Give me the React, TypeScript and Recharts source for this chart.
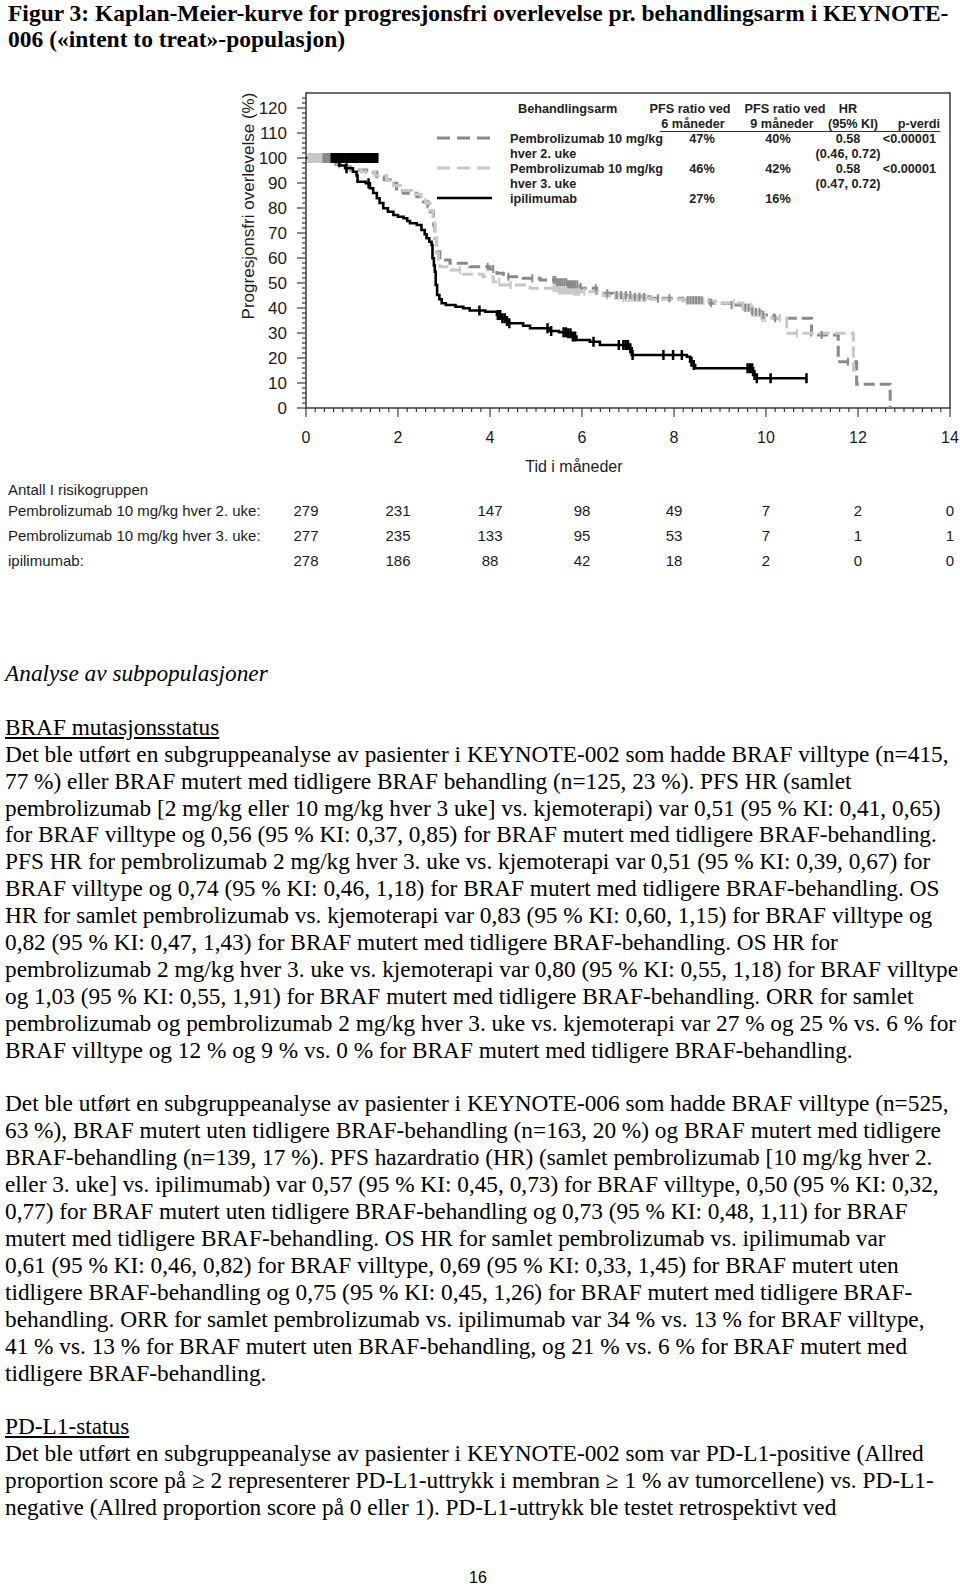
import React from 'react';
import { ComposedChart, Line, Scatter, XAxis, YAxis, ReferenceArea } from 'recharts';

// ---- chart data ----
const monthTicks = [0, 2, 4, 6, 8, 10, 12, 14];
const percentTicks = [0, 10, 20, 30, 40, 50, 60, 70, 80, 90, 100, 110, 120];

// Kaplan-Meier steps [months, % progression free]
const q2wCurve = [
  [0, 100], [0.55, 98.5], [0.65, 97.5], [0.74, 96.5], [0.96, 95.2], [1.32, 94.3], [1.54, 92.5],
  [1.7, 91.3], [1.83, 89.9], [1.97, 86.8], [2.12, 85.9], [2.41, 84.5], [2.55, 82.5], [2.65, 80.5],
  [2.7, 78.5], [2.77, 73.2], [2.8, 67.9], [2.84, 62.5], [2.91, 59.2], [3.13, 57.9], [3.56, 56.5],
  [4.0, 55.6], [4.15, 53.9], [4.29, 52.5], [4.72, 51.9], [5.09, 51.2], [5.45, 50.3], [5.7, 49.5],
  [5.96, 47.9], [6.32, 45.9], [6.68, 45.2], [7.1, 44.5], [7.48, 43.9], [8.19, 43.2], [8.78, 41.9],
  [9.22, 41.2], [9.5, 40], [9.7, 38.5], [9.9, 37.2], [10.16, 35.9], [10.99, 29.2], [11.57, 18.5],
  [11.97, 9.5], [12.7, 0],
];
const q3wCurve = [
  [0, 100], [0.55, 98.5], [0.7, 97], [0.9, 95.5], [1.2, 94.5], [1.5, 93], [1.75, 91], [1.9, 89],
  [2.05, 87], [2.3, 85.5], [2.5, 84], [2.6, 82], [2.7, 79], [2.76, 74], [2.8, 68], [2.84, 62],
  [2.88, 58.5], [2.91, 56.5], [3.13, 55.2], [3.42, 53.5], [3.85, 52.5], [4.07, 50.5], [4.22, 49.2],
  [4.87, 47.9], [5.5, 47], [5.8, 46.5], [6.46, 44.9], [6.9, 44], [7.5, 43.5], [8.2, 42.8], [8.9, 42],
  [9.5, 40.5], [9.7, 38], [9.9, 36], [10.45, 29.9], [11.9, 15.2], [11.95, 15.2],
];
const ipiCurve = [
  [0, 100], [0.6, 98.5], [0.72, 97], [0.85, 95.9], [1.02, 94.5], [1.1, 93], [1.12, 90.5], [1.3, 89.9],
  [1.39, 87.9], [1.46, 86], [1.54, 83.9], [1.6, 82], [1.68, 79.9], [1.78, 78.5], [1.9, 77.2], [2.0, 76.5],
  [2.12, 75.9], [2.2, 74.8], [2.26, 73.9], [2.41, 73.2], [2.51, 71.2], [2.58, 69.5], [2.62, 67.9],
  [2.68, 66.5], [2.73, 65.2], [2.75, 59.9], [2.78, 57], [2.8, 54.5], [2.82, 49.2], [2.85, 45.2],
  [2.9, 43.5], [2.95, 41.9], [3.04, 41.2], [3.25, 40.5], [3.42, 39.9], [3.56, 39], [3.9, 38.5],
  [4.15, 37.2], [4.25, 35.9], [4.33, 34.8], [4.4, 33.9], [4.72, 32.9], [4.87, 31.9], [5.3, 30.8],
  [5.5, 30.3], [5.67, 29.9], [5.78, 28.6], [5.88, 27.2], [6.17, 26.5], [6.39, 25.2], [7.04, 23.9],
  [7.08, 21.2], [8.28, 20.5], [8.35, 18.5], [8.4, 17.2], [8.46, 15.9], [9.72, 13.2], [9.8, 11.9],
  [10.88, 11.9],
];

// censored observations (months); marks sit on the curve
const q2wCensored = [
  3.95, 4.07, 4.4, 4.92, 5.38, 5.42, 5.46, 5.5, 5.54, 5.58, 5.62, 5.66, 5.7, 5.74, 5.78, 5.82, 5.86, 5.9,
  6.3, 6.55, 6.75, 6.85, 6.95, 7.05, 7.15, 7.25, 7.35, 7.65, 7.9, 8.3, 8.36, 8.42, 8.48, 8.54, 8.6,
  8.8, 9.25, 9.55, 9.62, 9.7, 9.78, 9.86, 9.94, 10.2, 11.21, 11.78,
];
const q3wCensored = [
  3.35, 4.2, 4.45, 5.38, 5.42, 5.46, 5.5, 5.54, 5.58, 5.62, 5.66, 5.7, 5.74, 5.78, 5.82, 5.86, 5.9, 5.94,
  6.05, 6.55, 6.72, 6.78, 6.84, 6.9, 6.96, 7.02, 7.08, 7.14, 7.2, 7.26, 7.32, 7.38, 7.65, 8.28, 8.34,
  8.4, 8.46, 8.52, 8.58, 8.64, 9.3, 9.5, 9.56, 9.62, 9.68, 9.74, 9.8, 9.86, 9.92, 9.98, 10.3, 10.67,
];
const ipiCensored = [
  0.88, 1.36, 3.77, 4.17, 4.22, 4.27, 4.32, 4.37, 4.42, 5.25, 5.33, 5.6, 5.65, 5.7, 5.75, 5.8, 5.85,
  6.25, 6.8, 6.9, 6.95, 7.0, 7.05, 7.1, 7.77, 7.98, 8.17, 8.38, 8.43, 9.6, 9.65, 9.7, 9.75, 9.8,
  10.1, 10.88,
];
// censor blocks drawn at the 100 % line at the start
const q3wStartBlock = [0.05, 0.08, 0.11, 0.14, 0.17, 0.2, 0.23, 0.26, 0.29, 0.32, 0.35];
const q2wStartBlock = [0.38, 0.41, 0.44, 0.47, 0.5, 0.53];
const ipiStartBlock = [
  0.56, 0.6, 0.64, 0.68, 0.72, 0.76, 0.8, 0.84, 0.88, 0.92, 0.96, 1.0, 1.04, 1.08, 1.12, 1.16,
  1.2, 1.24, 1.28, 1.32, 1.36, 1.4, 1.44, 1.48, 1.52, 1.55,
];

// number at risk
const riskLabels = ['Pembrolizumab 10 mg/kg hver 2. uke:', 'Pembrolizumab 10 mg/kg hver 3. uke:', 'ipilimumab:'];
const riskQ2W = [279, 231, 147, 98, 49, 7, 2, 0];
const riskQ3W = [277, 235, 133, 95, 53, 7, 1, 1];
const riskIpi = [278, 186, 88, 42, 18, 2, 0, 0];

// legend table
const armNames = [
  ['Pembrolizumab 10 mg/kg', 'hver 2. uke'],
  ['Pembrolizumab 10 mg/kg', 'hver 3. uke'],
  ['ipilimumab'],
];
const pfs6 = ['47%', '46%', '27%'];
const pfs9 = ['40%', '42%', '16%'];
const hrValues = ['0.58', '0.58', ''];
const hrCi = ['(0.46, 0.72)', '(0.47, 0.72)', ''];
const pValues = ['<0.00001', '<0.00001', ''];

// ---- page text ----
const titleLines = [
  'Figur 3: Kaplan-Meier-kurve for progresjonsfri overlevelse pr. behandlingsarm i KEYNOTE-',
  '006 («intent to treat»-populasjon)',
];
const braf002 = [
  'Det ble utført en subgruppeanalyse av pasienter i KEYNOTE-002 som hadde BRAF villtype (n=415,',
  '77 %) eller BRAF mutert med tidligere BRAF behandling (n=125, 23 %). PFS HR (samlet',
  'pembrolizumab [2 mg/kg eller 10 mg/kg hver 3 uke] vs. kjemoterapi) var 0,51 (95 % KI: 0,41, 0,65)',
  'for BRAF villtype og 0,56 (95 % KI: 0,37, 0,85) for BRAF mutert med tidligere BRAF-behandling.',
  'PFS HR for pembrolizumab 2 mg/kg hver 3. uke vs. kjemoterapi var 0,51 (95 % KI: 0,39, 0,67) for',
  'BRAF villtype og 0,74 (95 % KI: 0,46, 1,18) for BRAF mutert med tidligere BRAF-behandling. OS',
  'HR for samlet pembrolizumab vs. kjemoterapi var 0,83 (95 % KI: 0,60, 1,15) for BRAF villtype og',
  '0,82 (95 % KI: 0,47, 1,43) for BRAF mutert med tidligere BRAF-behandling. OS HR for',
  'pembrolizumab 2 mg/kg hver 3. uke vs. kjemoterapi var 0,80 (95 % KI: 0,55, 1,18) for BRAF villtype',
  'og 1,03 (95 % KI: 0,55, 1,91) for BRAF mutert med tidligere BRAF-behandling. ORR for samlet',
  'pembrolizumab og pembrolizumab 2 mg/kg hver 3. uke vs. kjemoterapi var 27 % og 25 % vs. 6 % for',
  'BRAF villtype og 12 % og 9 % vs. 0 % for BRAF mutert med tidligere BRAF-behandling.',
];
const braf006 = [
  'Det ble utført en subgruppeanalyse av pasienter i KEYNOTE-006 som hadde BRAF villtype (n=525,',
  '63 %), BRAF mutert uten tidligere BRAF-behandling (n=163, 20 %) og BRAF mutert med tidligere',
  'BRAF-behandling (n=139, 17 %). PFS hazardratio (HR) (samlet pembrolizumab [10 mg/kg hver 2.',
  'eller 3. uke] vs. ipilimumab) var 0,57 (95 % KI: 0,45, 0,73) for BRAF villtype, 0,50 (95 % KI: 0,32,',
  '0,77) for BRAF mutert uten tidligere BRAF-behandling og 0,73 (95 % KI: 0,48, 1,11) for BRAF',
  'mutert med tidligere BRAF-behandling. OS HR for samlet pembrolizumab vs. ipilimumab var',
  '0,61 (95 % KI: 0,46, 0,82) for BRAF villtype, 0,69 (95 % KI: 0,33, 1,45) for BRAF mutert uten',
  'tidligere BRAF-behandling og 0,75 (95 % KI: 0,45, 1,26) for BRAF mutert med tidligere BRAF-',
  'behandling. ORR for samlet pembrolizumab vs. ipilimumab var 34 % vs. 13 % for BRAF villtype,',
  '41 % vs. 13 % for BRAF mutert uten BRAF-behandling, og 21 % vs. 6 % for BRAF mutert med',
  'tidligere BRAF-behandling.',
];
const pdl1 = [
  'Det ble utført en subgruppeanalyse av pasienter i KEYNOTE-002 som var PD-L1-positive (Allred',
  'proportion score på ≥ 2 representerer PD-L1-uttrykk i membran ≥ 1 % av tumorcellene) vs. PD-L1-',
  'negative (Allred proportion score på 0 eller 1). PD-L1-uttrykk ble testet retrospektivt ved',
];

// ---- styles ----
const sans = "'Liberation Sans', Arial, sans-serif";
const serif = "'Liberation Serif', 'Times New Roman', serif";
const ink = '#1c1c1c';
const frameColor = '#3c3c3c';

const arms = [
  { name: 'q2w', color: '#8a8a8a', dash: '11 5', width: 3, risk: riskQ2W },
  { name: 'q3w', color: '#c8c8c8', dash: '11 5', width: 3, risk: riskQ3W },
  { name: 'ipi', color: '#000000', dash: undefined, width: 2.6, risk: riskIpi },
];

const toPoints = (rows: number[][]) => rows.map(([t, s]) => ({ t, s }));
const survAt = (rows: number[][], t: number) => {
  let s = rows[0][1];
  for (const [rt, rs] of rows) if (rt <= t) s = rs;
  return s;
};
const marksOn = (rows: number[][], times: number[]) => times.map((t) => ({ t, s: survAt(rows, t) }));
const marksAt = (times: number[], s: number) => times.map((t) => ({ t, s }));

const minorMonths = Array.from({ length: 71 }, (_, i) => Math.round(i * 2) / 10);
const minorPercents = Array.from({ length: 63 }, (_, i) => i * 2);

// risk-table rows sit below the time axis, offsets from the axis line
const riskRowOffsets = [102, 127, 152];

function MonthTick(props: any) {
  const { x, y, payload } = props;
  const idx = monthTicks.indexOf(payload.value);
  const major = idx >= 0;
  return (
    <g>
      <line x1={x} x2={x} y1={y} y2={y + (major ? 9 : 4)} stroke={frameColor} strokeWidth={1.2} />
      {major && (
        <g fontFamily={sans} fill={ink} textAnchor="middle" dominantBaseline="central">
          <text x={x} y={y + 29} fontSize={16}>{payload.value}</text>
          {arms.map((a, i) => (
            <text key={a.name} x={x} y={y + riskRowOffsets[i]} fontSize={15}>
              {a.risk[idx]}
            </text>
          ))}
        </g>
      )}
    </g>
  );
}

function PercentTick(props: any) {
  const { x, y, payload } = props;
  const major = percentTicks.includes(payload.value);
  return (
    <g>
      <line x1={x - (major ? 9 : 4)} x2={x} y1={y} y2={y} stroke={frameColor} strokeWidth={1.2} />
      {major && (
        <text x={x - 19} y={y} textAnchor="end" dominantBaseline="central" fontFamily={sans} fontSize={17} fill={ink}>
          {payload.value}
        </text>
      )}
    </g>
  );
}

function TimeCaption(props: any) {
  const { viewBox } = props;
  return (
    <g fontFamily={sans} fill={ink} dominantBaseline="central">
      <text x={viewBox.x + viewBox.width * 0.416} y={viewBox.y + 58} textAnchor="middle" fontSize={16}>
        Tid i måneder
      </text>
      <text x={8} y={viewBox.y + 81} fontSize={15}>
        Antall I risikogruppen
      </text>
      {riskLabels.map((l, i) => (
        <text key={l} x={8} y={viewBox.y + riskRowOffsets[i]} fontSize={15}>
          {l}
        </text>
      ))}
    </g>
  );
}

function PercentCaption(props: any) {
  const { viewBox } = props;
  const cx = 248;
  const cy = viewBox.y + 113;
  return (
    <text x={cx} y={cy} transform={`rotate(-90 ${cx} ${cy})`} textAnchor="middle" dominantBaseline="central" fontFamily={sans} fontSize={17} fill={ink}>
      Progresjonsfri overlevelse (%)
    </text>
  );
}

function CensorMark(props: any) {
  const { cx, cy, color, half, width } = props;
  if (cx == null || cy == null) return null;
  return <line x1={cx} x2={cx} y1={cy - half} y2={cy + half} stroke={color} strokeWidth={width} />;
}

function KmLegend() {
  const col6 = 702;
  const col9 = 778;
  const colHr = 848;
  const colP = 936;
  const rowY = [139, 169, 199];
  const f = { fontFamily: sans, fontSize: 12.7, fontWeight: 700, fill: '#222' } as const;
  return (
    <svg width={960} height={230} style={{ position: 'absolute', left: 0, top: 0, pointerEvents: 'none' }}>
      <text {...f} x={518} y={109} dominantBaseline="central">Behandlingsarm</text>
      <text {...f} x={690} y={109} textAnchor="middle" dominantBaseline="central">PFS ratio ved</text>
      <text {...f} x={693} y={124} textAnchor="middle" dominantBaseline="central">6 måneder</text>
      <text {...f} x={785} y={109} textAnchor="middle" dominantBaseline="central">PFS ratio ved</text>
      <text {...f} x={782} y={124} textAnchor="middle" dominantBaseline="central">9 måneder</text>
      <text {...f} x={848} y={109} textAnchor="middle" dominantBaseline="central">HR</text>
      <text {...f} x={853} y={124} textAnchor="middle" dominantBaseline="central">(95% KI)</text>
      <text {...f} x={940} y={124} textAnchor="end" dominantBaseline="central">p-verdi</text>
      <line x1={660} x2={940} y1={131.5} y2={131.5} stroke="#333" strokeWidth={1.2} />
      {arms.map((a, i) => (
        <g key={a.name}>
          <line x1={437} x2={492} y1={rowY[i] - 1} y2={rowY[i] - 1} stroke={a.color} strokeWidth={a.width} strokeDasharray={a.dash ? '13 7' : undefined} />
          <text {...f} x={510} y={rowY[i]} dominantBaseline="central">{armNames[i][0]}</text>
          {armNames[i][1] && <text {...f} x={510} y={rowY[i] + 15} dominantBaseline="central">{armNames[i][1]}</text>}
          <text {...f} x={col6} y={rowY[i]} textAnchor="middle" dominantBaseline="central">{pfs6[i]}</text>
          <text {...f} x={col9} y={rowY[i]} textAnchor="middle" dominantBaseline="central">{pfs9[i]}</text>
          <text {...f} x={colHr} y={rowY[i]} textAnchor="middle" dominantBaseline="central">{hrValues[i]}</text>
          <text {...f} x={colHr} y={rowY[i] + 15} textAnchor="middle" dominantBaseline="central">{hrCi[i]}</text>
          <text {...f} x={colP} y={rowY[i]} textAnchor="end" dominantBaseline="central">{pValues[i]}</text>
        </g>
      ))}
    </svg>
  );
}

function KmChart() {
  const curves = [q2wCurve, q3wCurve, ipiCurve];
  return (
    <ComposedChart width={960} height={600} margin={{ top: 93, right: 10, bottom: 27, left: 0 }}>
      <XAxis
        type="number"
        dataKey="t"
        domain={[0, 14]}
        ticks={minorMonths}
        interval={0}
        axisLine={false}
        tickLine={false}
        tickSize={0}
        tickMargin={0}
        height={165}
        tick={<MonthTick />}
        label={<TimeCaption />}
      />
      <YAxis
        type="number"
        domain={[0, 126]}
        ticks={minorPercents}
        interval={0}
        width={306}
        axisLine={false}
        tickLine={false}
        tickSize={0}
        tickMargin={0}
        tick={<PercentTick />}
        label={<PercentCaption />}
      />
      <ReferenceArea x1={0} x2={14} y1={0} y2={126} fill="none" stroke={frameColor} strokeWidth={1.5} ifOverflow="visible" />
      {arms.map((a, i) => (
        <Line
          key={a.name}
          data={toPoints(curves[i])}
          dataKey="s"
          type="stepAfter"
          stroke={a.color}
          strokeWidth={a.width}
          strokeDasharray={a.dash}
          dot={false}
          activeDot={false}
          isAnimationActive={false}
          legendType="none"
        />
      ))}
      <Scatter data={marksAt(q3wStartBlock, 100)} dataKey="s" isAnimationActive={false} legendType="none" shape={<CensorMark color={arms[1].color} half={5} width={2} />} />
      <Scatter data={marksAt(q2wStartBlock, 100)} dataKey="s" isAnimationActive={false} legendType="none" shape={<CensorMark color={arms[0].color} half={5} width={2} />} />
      <Scatter data={marksAt(ipiStartBlock, 100)} dataKey="s" isAnimationActive={false} legendType="none" shape={<CensorMark color={arms[2].color} half={5} width={2.5} />} />
      <Scatter data={marksOn(q3wCurve, q3wCensored)} dataKey="s" isAnimationActive={false} legendType="none" shape={<CensorMark color={arms[1].color} half={4} width={2} />} />
      <Scatter data={marksOn(q2wCurve, q2wCensored)} dataKey="s" isAnimationActive={false} legendType="none" shape={<CensorMark color={arms[0].color} half={4} width={2} />} />
      <Scatter data={marksOn(ipiCurve, ipiCensored)} dataKey="s" isAnimationActive={false} legendType="none" shape={<CensorMark color={arms[2].color} half={5} width={2.5} />} />
    </ComposedChart>
  );
}

const LINE = 26.9;

export default function App() {
  return (
    <div style={{ position: 'absolute', left: 0, top: 0, width: 960, height: 1589, overflow: 'hidden', background: '#fff', color: '#000' }}>
      <div style={{ position: 'absolute', left: 8, top: 0, fontFamily: serif, fontWeight: 700, fontSize: 23.5, lineHeight: '26.4px', whiteSpace: 'nowrap' }}>
        {titleLines.map((l) => (
          <div key={l}>{l}</div>
        ))}
      </div>

      <div style={{ position: 'absolute', left: 0, top: 0 }}>
        <KmChart />
      </div>
      <KmLegend />

      <div style={{ position: 'absolute', left: 5, top: 660, fontFamily: serif, fontSize: 23.3, lineHeight: `${LINE}px`, whiteSpace: 'nowrap' }}>
        <div style={{ fontStyle: 'italic' }}>Analyse av subpopulasjoner</div>
        <div style={{ height: LINE }} />
        <div style={{ textDecoration: 'underline' }}>BRAF mutasjonsstatus</div>
        {braf002.map((l) => (
          <div key={l}>{l}</div>
        ))}
        <div style={{ height: LINE }} />
        {braf006.map((l) => (
          <div key={l}>{l}</div>
        ))}
        <div style={{ height: LINE }} />
        <div style={{ textDecoration: 'underline' }}>PD-L1-status</div>
        {pdl1.map((l) => (
          <div key={l}>{l}</div>
        ))}
      </div>

      <div style={{ position: 'absolute', left: 458, top: 1569, width: 40, textAlign: 'center', fontFamily: sans, fontSize: 16 }}>16</div>
    </div>
  );
}
